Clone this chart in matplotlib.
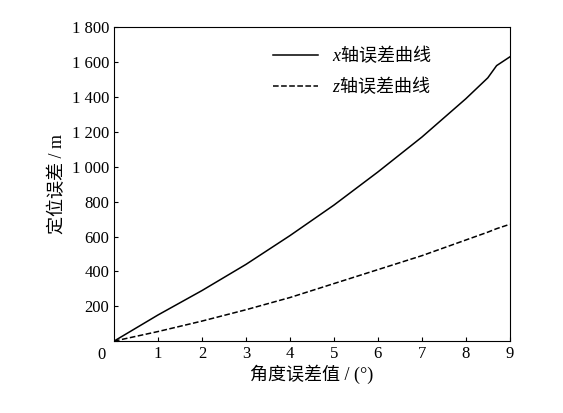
import matplotlib
matplotlib.use('Agg')
import matplotlib.pyplot as plt
from matplotlib.ticker import FuncFormatter

plt.rcParams['font.family'] = ['Liberation Serif', 'Noto Sans CJK SC']
plt.rcParams['mathtext.fontset'] = 'custom'
plt.rcParams['mathtext.rm'] = 'Noto Sans CJK SC'
plt.rcParams['mathtext.it'] = 'Liberation Serif:italic'

# 角度误差值 与 定位误差
angle = [0, 1, 2, 3, 4, 5, 6, 7, 8, 8.5, 8.7, 9]
err_x = [0, 150, 290, 440, 605, 780, 970, 1170, 1390, 1510, 1580, 1630]
err_z = [0, 55, 115, 180, 250, 330, 410, 490, 580, 625, 645, 670]

fig = plt.figure(figsize=(5.63, 4.13), dpi=100)
ax = fig.add_axes([0.2025, 0.174, 0.703, 0.760])
ax.plot(angle, err_x, color='black', lw=1.1, label=r'$x\mathrm{轴误差曲线}$')
ax.plot(angle, err_z, color='black', lw=1.1, ls='--', label=r'$z\mathrm{轴误差曲线}$')

ax.set_xlim(0, 9)
ax.set_ylim(0, 1800)
ax.set_xticks(range(1, 10))
ax.set_yticks(range(0, 1801, 200))
ax.yaxis.set_major_formatter(FuncFormatter(lambda v, p: f'{int(v):,}'.replace(',', ' ')))
ax.tick_params(direction='in', labelsize=12, length=3)
ax.text(-0.02, -0.02, '0', transform=ax.transAxes, ha='right', va='top', fontsize=12)
ax.yaxis.get_major_ticks()[0].label1.set_visible(False)

ax.set_xlabel('角度误差值 / (°)', fontsize=13, labelpad=2)
ax.set_ylabel('定位误差 / m', fontsize=13)
ax.legend(loc='upper left', bbox_to_anchor=(0.36, 1.0), frameon=False, fontsize=13,
          handlelength=2.5)

fig.savefig('out.png', dpi=100)
